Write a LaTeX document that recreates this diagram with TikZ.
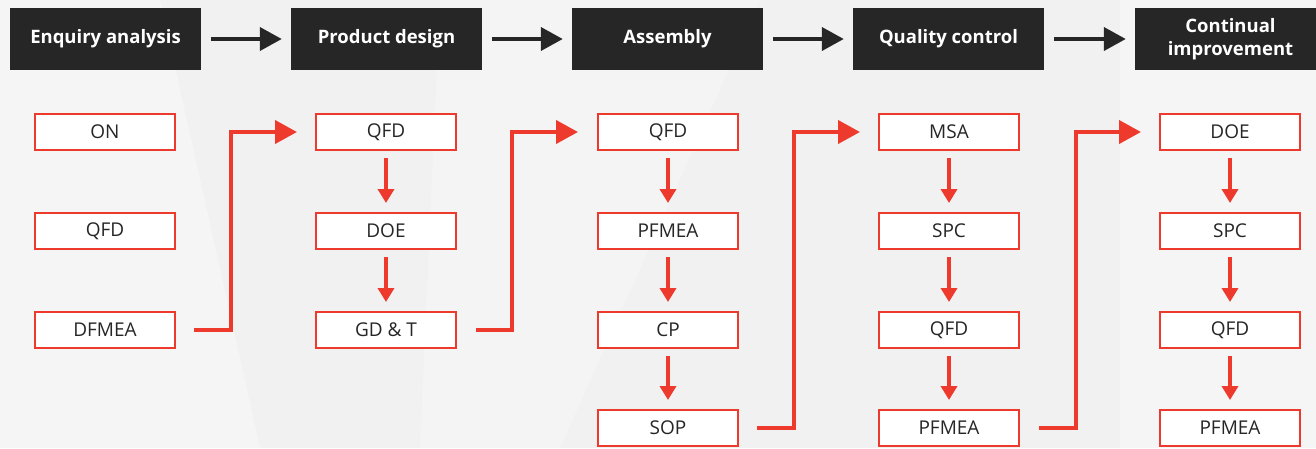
\documentclass[tikz,border=0pt]{standalone}
\usepackage{fontspec}
\setmainfont{Open Sans}
\usetikzlibrary{arrows.meta}
\definecolor{hdr}{HTML}{262626}
\definecolor{rd}{HTML}{EE3A2C}
\definecolor{bg}{HTML}{F1F1F2}
\begin{document}
\begin{tikzpicture}[x=1pt,y=-1pt,
  header/.style={fill=hdr,text=white,minimum width=191pt,minimum height=62pt,inner sep=0pt,
    font=\fontsize{18.5}{23}\selectfont\bfseries,align=center},
  toolbox/.style={draw=rd,line width=2pt,fill=white,minimum width=140pt,minimum height=36pt,inner sep=0pt,
    font=\fontsize{19}{22}\selectfont,text=black!85},
  harrow/.style={draw=hdr,line width=4pt,shorten <=10pt,shorten >=9pt,-{Triangle[length=22pt,width=23pt]}},
  varrow/.style={draw=rd,line width=4pt,shorten <=7pt,shorten >=9pt,-{Triangle[length=14pt,width=16pt]}},
  route/.style={draw=rd,line width=4pt,line join=miter,-{Triangle[length=22pt,width=23pt]}}
]
\useasboundingbox (0,0) rectangle (1316,448);
\clip (0,0) rectangle (1316,448);
\fill[bg] (0,0) rectangle (1316,448);
\fill[white,opacity=0.35] (0,0) -- (160,0) -- (260,448) -- (0,448) -- cycle;
\fill[white,opacity=0.25] (440,0) -- (760,0) -- (560,448) -- (420,448) -- cycle;
\fill[white,opacity=0.3] (1120,0) rectangle (1316,448);

% headers
\node[header] (h1) at (105.5,39) {Enquiry analysis};
\node[header] (h2) at (386.5,39) {Product design};
\node[header] (h3) at (667.5,39) {Assembly};
\node[header] (h4) at (948.5,39) {Quality control};
\node[header] (h5) at (1230.5,39) {Continual\\improvement};
\draw[harrow] (h1) -- (h2);
\draw[harrow] (h2) -- (h3);
\draw[harrow] (h3) -- (h4);
\draw[harrow] (h4) -- (h5);

% column 1
\node[toolbox] (a1) at (105,132) {ON};
\node[toolbox] (a2) at (105,231) {QFD};
\node[toolbox] (a3) at (105,330) {DFMEA};
% column 2
\node[toolbox] (b1) at (386,132) {QFD};
\node[toolbox] (b2) at (386,231) {DOE};
\node[toolbox] (b3) at (386,330) {GD \& T};
% column 3
\node[toolbox] (c1) at (668,132) {QFD};
\node[toolbox] (c2) at (668,231) {PFMEA};
\node[toolbox] (c3) at (668,330) {CP};
\node[toolbox] (c4) at (668,428) {SOP};
% column 4
\node[toolbox] (d1) at (949,132) {MSA};
\node[toolbox] (d2) at (949,231) {SPC};
\node[toolbox] (d3) at (949,330) {QFD};
\node[toolbox] (d4) at (949,428) {PFMEA};
% column 5
\node[toolbox] (e1) at (1230,132) {DOE};
\node[toolbox] (e2) at (1230,231) {SPC};
\node[toolbox] (e3) at (1230,330) {QFD};
\node[toolbox] (e4) at (1230,428) {PFMEA};

% vertical arrows
\draw[varrow] (b1) -- (b2);
\draw[varrow] (b2) -- (b3);
\draw[varrow] (c1) -- (c2);
\draw[varrow] (c2) -- (c3);
\draw[varrow] (c3) -- (c4);
\draw[varrow] (d1) -- (d2);
\draw[varrow] (d2) -- (d3);
\draw[varrow] (d3) -- (d4);
\draw[varrow] (e1) -- (e2);
\draw[varrow] (e2) -- (e3);
\draw[varrow] (e3) -- (e4);

% routing arrows
\draw[route] ([xshift=18pt]a3.east) -- ++(37,0) |- ([xshift=-18pt]b1.west);
\draw[route] ([xshift=19pt]b3.east) -- ++(36,0) |- ([xshift=-19pt]c1.west);
\draw[route] ([xshift=18pt]c4.east) -- ++(37,0) |- ([xshift=-18pt]d1.west);
\draw[route] ([xshift=19pt]d4.east) -- ++(37,0) |- ([xshift=-18pt]e1.west);
\end{tikzpicture}
\end{document}
